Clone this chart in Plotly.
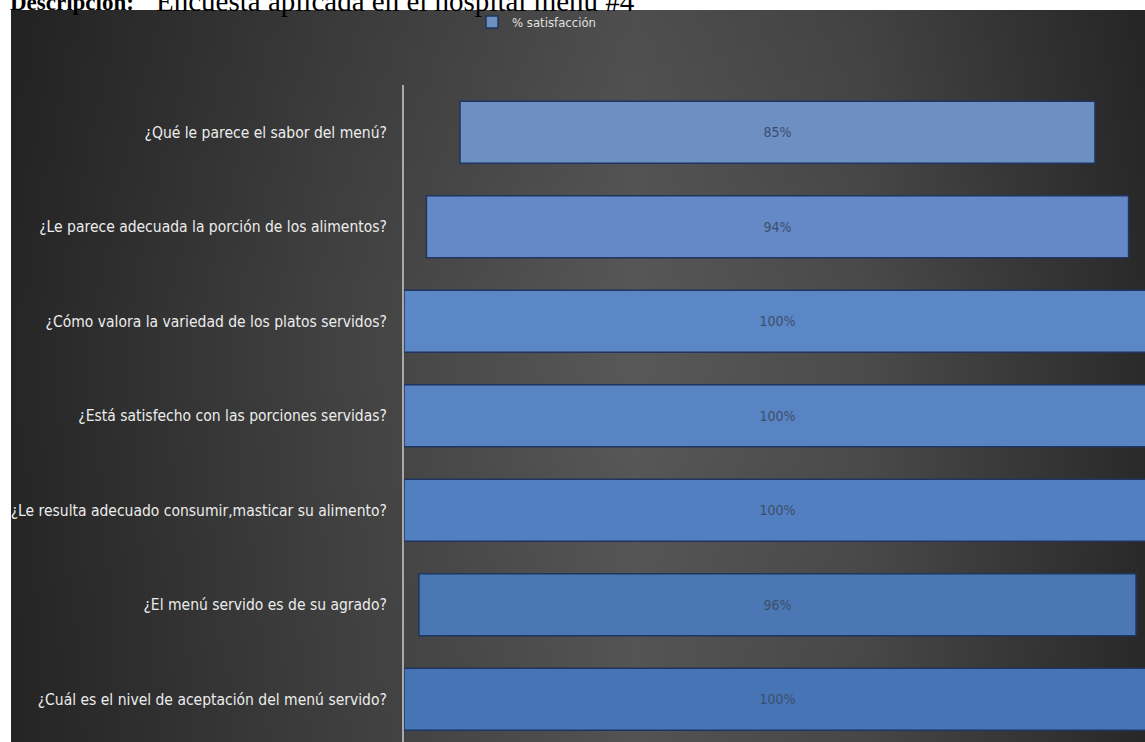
import base64
import plotly.graph_objects as go

# Survey questions (top to bottom) and satisfaction percentages
preguntas = [
    "¿Qué le parece el sabor del menú?",
    "¿Le parece adecuada la porción de los alimentos?",
    "¿Cómo valora la variedad de los platos servidos?",
    "¿Está satisfecho con las porciones servidas?",
    "¿Le resulta adecuado consumir,masticar su alimento?",
    "¿El menú servido es de su agrado?",
    "¿Cuál es el nivel de aceptación del menú servido?",
]
satisfaccion = [85, 94, 100, 100, 100, 96, 100]
etiquetas = [f"{v}%" for v in satisfaccion]

colores = ["#6d8fc2", "#6589c6", "#5c87c6", "#5884c4", "#527fc0", "#4b78b4", "#4674b5"]

W, H = 1145, 742
ML, MT = 404, 85
PW, PH = W - ML, H - MT

FONT = "Liberation Sans Narrow, DejaVu Sans Condensed, Open Sans, sans-serif"
SERIF = "Liberation Serif, Times New Roman, serif"

# Dark gradient backdrop of the chart area
svg = (
    '<svg xmlns="http://www.w3.org/2000/svg" width="1134" height="732" preserveAspectRatio="none">'
    '<defs><linearGradient id="g" x1="0" y1="0" x2="1" y2="0">'
    '<stop offset="0" stop-color="#262626"/>'
    '<stop offset="0.28" stop-color="#414141"/>'
    '<stop offset="0.55" stop-color="#585858"/>'
    '<stop offset="0.75" stop-color="#4b4b4b"/>'
    '<stop offset="1" stop-color="#2a2a2a"/>'
    '</linearGradient>'
    '<linearGradient id="v" x1="0" y1="0" x2="0" y2="1">'
    '<stop offset="0" stop-color="#000" stop-opacity="0.12"/>'
    '<stop offset="0.45" stop-color="#000" stop-opacity="0"/>'
    '<stop offset="1" stop-color="#000" stop-opacity="0.06"/>'
    '</linearGradient></defs>'
    '<rect width="1134" height="732" fill="url(#g)"/>'
    '<rect width="1134" height="732" fill="url(#v)"/>'
    '</svg>'
)
fondo = "data:image/svg+xml;base64," + base64.b64encode(svg.encode()).decode()


def px_x(x):
    return (x - ML) / PW


def px_y(y):
    return (H - y) / PH


fig = go.Figure()
fig.add_trace(go.Bar(
    y=preguntas,
    x=satisfaccion,
    base=[-v / 2 for v in satisfaccion],
    orientation="h",
    name="% satisfacción",
    marker=dict(color=colores, line=dict(color="#1f3560", width=1.5)),
    text=etiquetas,
    textposition="inside",
    insidetextanchor="middle",
    textfont=dict(family=FONT, size=14, color="#3c4e6c"),
    hoverinfo="skip",
))

fig.update_layout(
    width=W, height=H,
    margin=dict(l=ML, r=0, t=MT, b=0, pad=0),
    paper_bgcolor="white",
    plot_bgcolor="rgba(0,0,0,0)",
    bargap=0.344,
    showlegend=True,
    legend=dict(
        orientation="h",
        x=px_x(472), xanchor="left",
        y=px_y(22), yanchor="middle",
        bgcolor="rgba(0,0,0,0)",
        font=dict(family=FONT, size=13, color="#e0e0e0"),
    ),
    xaxis=dict(range=[-50, 49.2], visible=False, fixedrange=True),
    yaxis=dict(
        type="category",
        categoryorder="array",
        categoryarray=preguntas,
        range=[6.452, -0.5],
        showgrid=False,
        zeroline=False,
        showline=True,
        linecolor="#a9a9a9",
        linewidth=2,
        ticks="",
        ticklabelstandoff=12,
        tickfont=dict(family=FONT, size=15.5, color="#ececec"),
    ),
    images=[dict(
        source=fondo,
        xref="paper", yref="paper",
        x=px_x(11), y=px_y(10),
        sizex=(W - 11) / PW, sizey=(H - 10) / PH,
        xanchor="left", yanchor="top",
        sizing="stretch", layer="below",
    )],
    annotations=[
        dict(
            text="<b>Descripción:</b>",
            xref="paper", yref="paper",
            x=px_x(8), xanchor="left",
            y=px_y(17), yanchor="bottom",
            showarrow=False,
            font=dict(family=SERIF, size=23, color="black"),
        ),
        dict(
            text="Encuesta aplicada en el hospital menú #4",
            xref="paper", yref="paper",
            x=px_x(154), xanchor="left",
            y=px_y(18.5), yanchor="bottom",
            showarrow=False,
            font=dict(family=SERIF, size=29, color="black"),
        ),
    ],
)

fig.write_html("out.html")
